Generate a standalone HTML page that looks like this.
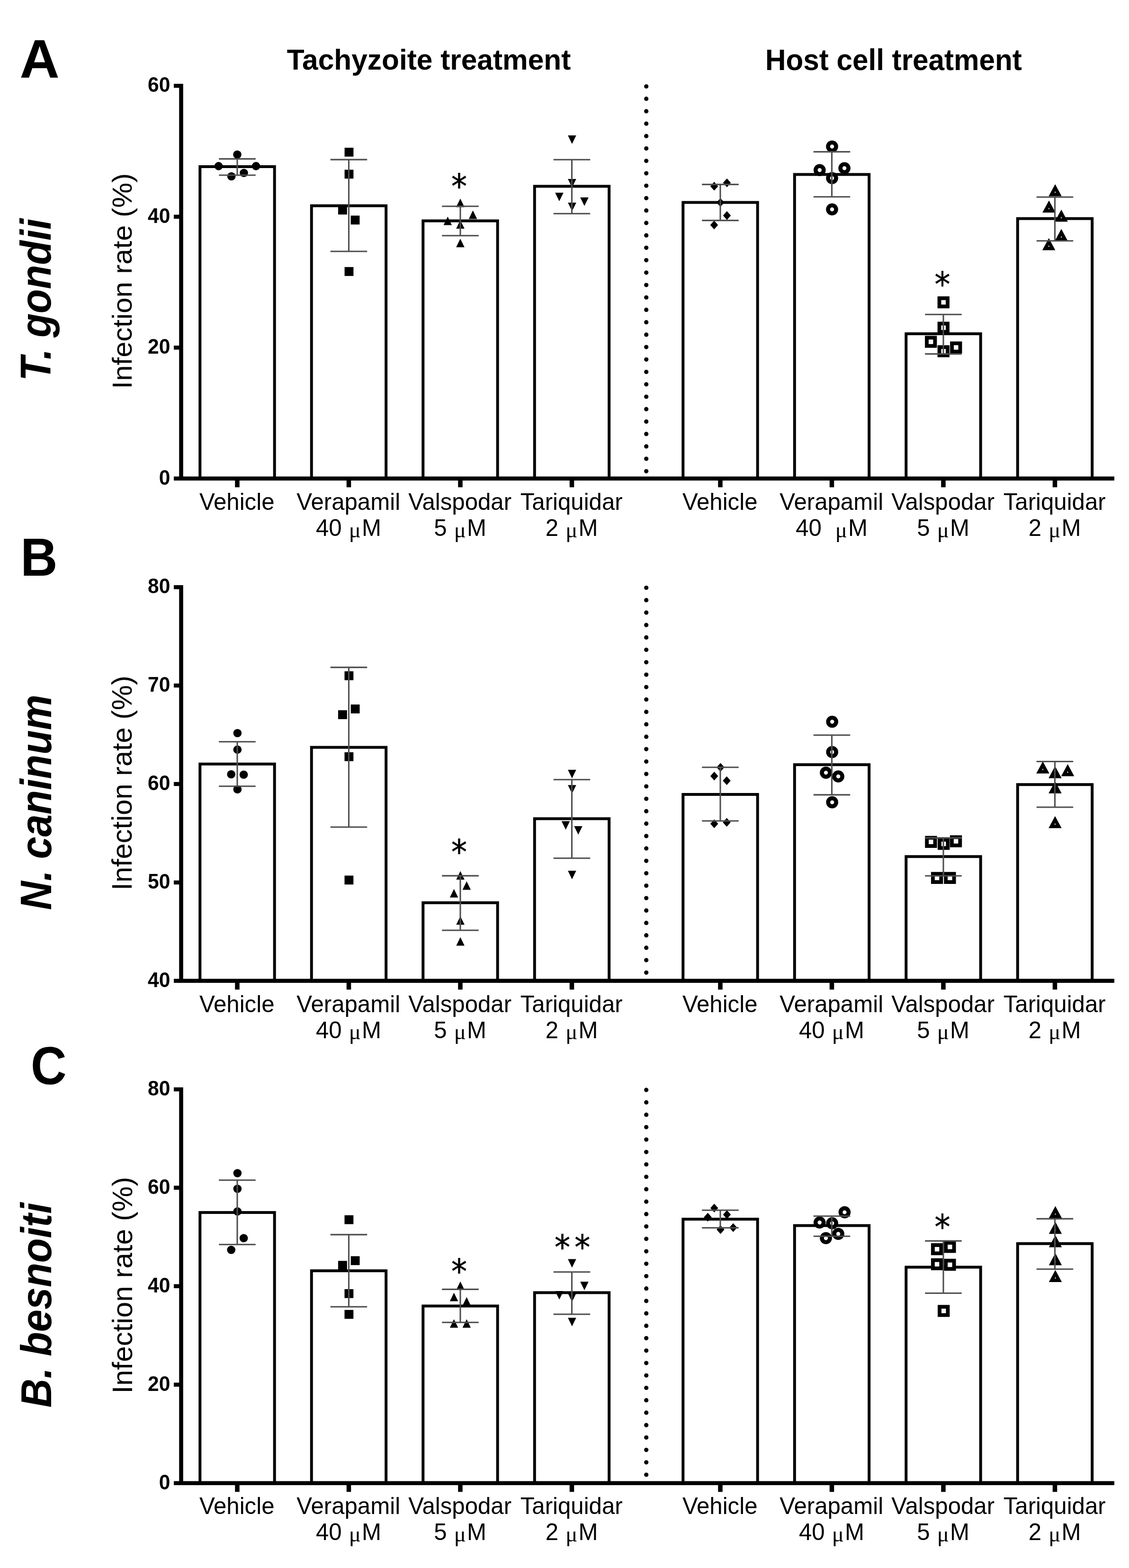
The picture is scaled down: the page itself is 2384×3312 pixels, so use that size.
<!DOCTYPE html>
<html><head><meta charset="utf-8"><title>Infection rate figure</title>
<style>html,body{margin:0;padding:0;background:#fff;}svg{display:block;filter:blur(0.5px);}</style>
</head><body>
<svg width="2384" height="3312" viewBox="0 0 2384 3312">
<rect width="2384" height="3312" fill="#fff"/>
<g><rect x="422.30" y="352.00" width="157.4" height="658.80" fill="#fff" stroke="#000" stroke-width="6"/><rect x="657.80" y="434.60" width="157.4" height="576.20" fill="#fff" stroke="#000" stroke-width="6"/><rect x="893.30" y="466.50" width="157.4" height="544.30" fill="#fff" stroke="#000" stroke-width="6"/><rect x="1128.80" y="393.50" width="157.4" height="617.30" fill="#fff" stroke="#000" stroke-width="6"/><rect x="1442.30" y="427.60" width="157.4" height="583.20" fill="#fff" stroke="#000" stroke-width="6"/><rect x="1677.80" y="368.50" width="157.4" height="642.30" fill="#fff" stroke="#000" stroke-width="6"/><rect x="1913.30" y="705.00" width="157.4" height="305.80" fill="#fff" stroke="#000" stroke-width="6"/><rect x="2148.80" y="461.70" width="157.4" height="549.10" fill="#fff" stroke="#000" stroke-width="6"/></g>
<g fill="#000"><circle cx="501.0" cy="326.5" r="8.8"/><circle cx="461.6" cy="350.9" r="8.8"/><circle cx="540.6" cy="350.9" r="8.8"/><circle cx="488.7" cy="372.5" r="8.8"/><circle cx="515.0" cy="365.2" r="8.8"/><rect x="727.6" y="312.0" width="18.8" height="18.8"/><rect x="727.6" y="358.5" width="18.8" height="18.8"/><rect x="714.0" y="434.3" width="18.8" height="18.8"/><rect x="740.6" y="455.4" width="18.8" height="18.8"/><rect x="727.6" y="564.1" width="18.8" height="18.8"/><path d="M972.0 419.5L980.8 437.5L963.2 437.5Z"/><path d="M998.6 444.6L1007.4 462.6L989.9 462.6Z"/><path d="M945.4 457.5L954.1 475.5L936.6 475.5Z"/><path d="M972.0 465.0L980.8 483.0L963.2 483.0Z"/><path d="M972.0 504.2L980.8 522.2L963.2 522.2Z"/><path d="M1207.9 304.0L1216.7 286.0L1199.2 286.0Z"/><path d="M1207.9 396.0L1216.7 378.0L1199.2 378.0Z"/><path d="M1181.0 425.0L1189.8 407.0L1172.2 407.0Z"/><path d="M1234.0 435.0L1242.8 417.0L1225.2 417.0Z"/><path d="M1208.0 446.0L1216.8 428.0L1199.2 428.0Z"/><path d="M1508.1 384.1L1516.3 393.4L1508.1 402.6L1499.8 393.4Z"/><path d="M1535.0 376.9L1543.2 386.1L1535.0 395.4L1526.8 386.1Z"/><path d="M1521.2 418.4L1529.5 427.7L1521.2 436.9L1513.0 427.7Z"/><path d="M1535.0 445.9L1543.2 455.2L1535.0 464.4L1526.8 455.2Z"/><path d="M1508.0 466.1L1516.2 475.3L1508.0 484.6L1499.8 475.3Z"/><circle cx="1757.0" cy="309.5" r="8.5" fill="#fff" stroke="#000" stroke-width="8.6"/><circle cx="1730.8" cy="359.3" r="8.5" fill="#fff" stroke="#000" stroke-width="8.6"/><circle cx="1783.1" cy="355.2" r="8.5" fill="#fff" stroke="#000" stroke-width="8.6"/><circle cx="1757.0" cy="376.2" r="8.5" fill="#fff" stroke="#000" stroke-width="8.6"/><circle cx="1757.0" cy="442.2" r="8.5" fill="#fff" stroke="#000" stroke-width="8.6"/><rect x="1983.6" y="629.9" width="17.4" height="17.4" fill="#fff" stroke="#000" stroke-width="7.9"/><rect x="1983.6" y="683.5" width="17.4" height="17.4" fill="#fff" stroke="#000" stroke-width="7.9"/><rect x="1957.0" y="713.3" width="17.4" height="17.4" fill="#fff" stroke="#000" stroke-width="7.9"/><rect x="2010.1" y="725.2" width="17.4" height="17.4" fill="#fff" stroke="#000" stroke-width="7.9"/><rect x="1983.6" y="733.2" width="17.4" height="17.4" fill="#fff" stroke="#000" stroke-width="7.9"/><path d="M2228.1 389.1L2241.8 414.6L2214.3 414.6Z"/><path fill="#fff" d="M2228.1 403.8L2229.4 407.3L2226.8 407.3Z"/><path d="M2215.0 423.6L2228.8 449.1L2201.2 449.1Z"/><path fill="#fff" d="M2215.0 438.3L2216.3 441.8L2213.7 441.8Z"/><path d="M2241.1 442.8L2254.8 468.2L2227.3 468.2Z"/><path fill="#fff" d="M2241.1 457.4L2242.4 460.9L2239.8 460.9Z"/><path d="M2241.1 483.6L2254.8 509.1L2227.3 509.1Z"/><path fill="#fff" d="M2241.1 498.3L2242.4 501.8L2239.8 501.8Z"/><path d="M2214.7 503.0L2228.4 528.5L2200.9 528.5Z"/><path fill="#fff" d="M2214.7 517.8L2216.0 521.2L2213.4 521.2Z"/></g>
<path fill="none" stroke="#4e4e4e" stroke-width="3.1" d="M501 335.6V370M462.25 335.6H539.75M462.25 370H539.75M736.5 337.1V531M697.75 337.1H775.25M697.75 531H775.25M972 435.8V497.7M933.25 435.8H1010.75M933.25 497.7H1010.75M1207.5 337.2V451.3M1168.75 337.2H1246.25M1168.75 451.3H1246.25M1521 389.6V465.6M1482.25 389.6H1559.75M1482.25 465.6H1559.75M1756.5 320.6V415.8M1717.75 320.6H1795.25M1717.75 415.8H1795.25M1992 664.2V747.6M1953.25 664.2H2030.75M1953.25 747.6H2030.75M2227.5 416.3V508.7M2188.75 416.3H2266.25M2188.75 508.7H2266.25"/>
<line x1="1364.7" y1="182.5" x2="1364.7" y2="1002.8" stroke="#000" stroke-width="9.2" stroke-linecap="round" stroke-dasharray="0 26.22"/>
<path fill="none" stroke="#000" stroke-width="8.5" d="M382.5 176.95V1010.80M367 1010.80H2353M367 1010.80H382.5M367 734.30H382.5M367 457.70H382.5M367 181.20H382.5"/>
<path fill="none" stroke="#000" stroke-width="9.5" d="M501 1010.80V1029.30M736.5 1010.80V1029.30M972 1010.80V1029.30M1207.5 1010.80V1029.30M1521 1010.80V1029.30M1756.5 1010.80V1029.30M1992 1010.80V1029.30M2227.5 1010.80V1029.30"/>
<text font-family='"Liberation Sans", Arial, sans-serif' font-weight="bold" font-size="45.25" transform="translate(335.71,1023.72) scale(0.94,1)">0</text>
<text font-family='"Liberation Sans", Arial, sans-serif' font-weight="bold" font-size="45.25" transform="translate(312.10,747.22) scale(0.94,1)">20</text>
<text font-family='"Liberation Sans", Arial, sans-serif' font-weight="bold" font-size="45.25" transform="translate(312.10,470.62) scale(0.94,1)">40</text>
<text font-family='"Liberation Sans", Arial, sans-serif' font-weight="bold" font-size="45.25" transform="translate(312.10,194.12) scale(0.94,1)">60</text>
<text font-family='"Liberation Sans", Arial, sans-serif' font-size="49.2" text-anchor="middle" x="500.2" y="1077.1">Vehicle</text>
<text font-family='"Liberation Sans", Arial, sans-serif' font-size="49.2" text-anchor="middle" x="735.7" y="1077.1">Verapamil</text>
<text font-family='"Liberation Sans", Arial, sans-serif' font-size="49.2" text-anchor="middle" x="736.0" y="1132.2">40 <tspan font-family='"Liberation Serif", serif' font-size="47" dx="1.5" dy="2.6">μ</tspan><tspan dx="2" dy="-2.6">M</tspan></text>
<text font-family='"Liberation Sans", Arial, sans-serif' font-size="49.2" text-anchor="middle" x="971.2" y="1077.1">Valspodar</text>
<text font-family='"Liberation Sans", Arial, sans-serif' font-size="49.2" text-anchor="middle" x="971.5" y="1132.2">5 <tspan font-family='"Liberation Serif", serif' font-size="47" dx="1.5" dy="2.6">μ</tspan><tspan dx="2" dy="-2.6">M</tspan></text>
<text font-family='"Liberation Sans", Arial, sans-serif' font-size="49.2" text-anchor="middle" x="1206.7" y="1077.1">Tariquidar</text>
<text font-family='"Liberation Sans", Arial, sans-serif' font-size="49.2" text-anchor="middle" x="1207.0" y="1132.2">2 <tspan font-family='"Liberation Serif", serif' font-size="47" dx="1.5" dy="2.6">μ</tspan><tspan dx="2" dy="-2.6">M</tspan></text>
<text font-family='"Liberation Sans", Arial, sans-serif' font-size="49.2" text-anchor="middle" x="1520.2" y="1077.1">Vehicle</text>
<text font-family='"Liberation Sans", Arial, sans-serif' font-size="49.2" text-anchor="middle" x="1755.7" y="1077.1">Verapamil</text>
<text font-family='"Liberation Sans", Arial, sans-serif' font-size="49.2" text-anchor="middle" x="1756.0" y="1132.2">40  <tspan font-family='"Liberation Serif", serif' font-size="47" dx="1.5" dy="2.6">μ</tspan><tspan dx="2" dy="-2.6">M</tspan></text>
<text font-family='"Liberation Sans", Arial, sans-serif' font-size="49.2" text-anchor="middle" x="1991.2" y="1077.1">Valspodar</text>
<text font-family='"Liberation Sans", Arial, sans-serif' font-size="49.2" text-anchor="middle" x="1991.5" y="1132.2">5 <tspan font-family='"Liberation Serif", serif' font-size="47" dx="1.5" dy="2.6">μ</tspan><tspan dx="2" dy="-2.6">M</tspan></text>
<text font-family='"Liberation Sans", Arial, sans-serif' font-size="49.2" text-anchor="middle" x="2226.7" y="1077.1">Tariquidar</text>
<text font-family='"Liberation Sans", Arial, sans-serif' font-size="49.2" text-anchor="middle" x="2227.0" y="1132.2">2 <tspan font-family='"Liberation Serif", serif' font-size="47" dx="1.5" dy="2.6">μ</tspan><tspan dx="2" dy="-2.6">M</tspan></text>
<text font-family='"DejaVu Sans", sans-serif' font-size="71" text-anchor="middle" transform="translate(969.5,418.3) scale(0.93,1)" stroke="#000" stroke-width="0.7">*</text>
<text font-family='"DejaVu Sans", sans-serif' font-size="71" text-anchor="middle" transform="translate(1990.1,624.9) scale(0.93,1)" stroke="#000" stroke-width="0.7">*</text>
<g><rect x="422.30" y="1613.80" width="157.4" height="458.00" fill="#fff" stroke="#000" stroke-width="6"/><rect x="657.80" y="1578.60" width="157.4" height="493.20" fill="#fff" stroke="#000" stroke-width="6"/><rect x="893.30" y="1906.80" width="157.4" height="165.00" fill="#fff" stroke="#000" stroke-width="6"/><rect x="1128.80" y="1729.30" width="157.4" height="342.50" fill="#fff" stroke="#000" stroke-width="6"/><rect x="1442.30" y="1678.00" width="157.4" height="393.80" fill="#fff" stroke="#000" stroke-width="6"/><rect x="1677.80" y="1615.20" width="157.4" height="456.60" fill="#fff" stroke="#000" stroke-width="6"/><rect x="1913.30" y="1809.30" width="157.4" height="262.50" fill="#fff" stroke="#000" stroke-width="6"/><rect x="2148.80" y="1657.20" width="157.4" height="414.60" fill="#fff" stroke="#000" stroke-width="6"/></g>
<g fill="#000"><circle cx="501.4" cy="1548.5" r="8.8"/><circle cx="501.4" cy="1583.4" r="8.8"/><circle cx="488.2" cy="1635.5" r="8.8"/><circle cx="514.6" cy="1636.3" r="8.8"/><circle cx="501.4" cy="1667.3" r="8.8"/><rect x="727.5" y="1417.9" width="18.8" height="18.8"/><rect x="714.0" y="1500.2" width="18.8" height="18.8"/><rect x="740.7" y="1488.1" width="18.8" height="18.8"/><rect x="727.5" y="1588.9" width="18.8" height="18.8"/><rect x="727.5" y="1849.5" width="18.8" height="18.8"/><path d="M972.1 1840.0L980.9 1858.0L963.4 1858.0Z"/><path d="M985.4 1861.4L994.1 1879.4L976.6 1879.4Z"/><path d="M958.6 1877.8L967.4 1895.8L949.9 1895.8Z"/><path d="M972.1 1935.2L980.9 1953.2L963.4 1953.2Z"/><path d="M972.1 1979.5L980.9 1997.5L963.4 1997.5Z"/><path d="M1207.9 1643.9L1216.7 1625.9L1199.2 1625.9Z"/><path d="M1207.9 1676.3L1216.7 1658.3L1199.2 1658.3Z"/><path d="M1194.6 1752.4L1203.3 1734.4L1185.8 1734.4Z"/><path d="M1221.1 1763.0L1229.8 1745.0L1212.3 1745.0Z"/><path d="M1207.9 1857.2L1216.7 1839.2L1199.2 1839.2Z"/><path d="M1521.4 1611.5L1529.7 1620.8L1521.4 1630.0L1513.2 1620.8Z"/><path d="M1508.2 1630.0L1516.5 1639.2L1508.2 1648.5L1500.0 1639.2Z"/><path d="M1534.6 1639.8L1542.8 1649.0L1534.6 1658.2L1526.3 1649.0Z"/><path d="M1508.2 1730.8L1516.5 1740.0L1508.2 1749.2L1500.0 1740.0Z"/><path d="M1534.6 1727.7L1542.8 1736.9L1534.6 1746.2L1526.3 1736.9Z"/><circle cx="1757.2" cy="1524.5" r="8.5" fill="#fff" stroke="#000" stroke-width="8.6"/><circle cx="1757.2" cy="1588.5" r="8.5" fill="#fff" stroke="#000" stroke-width="8.6"/><circle cx="1744.0" cy="1632.1" r="8.5" fill="#fff" stroke="#000" stroke-width="8.6"/><circle cx="1770.1" cy="1640.0" r="8.5" fill="#fff" stroke="#000" stroke-width="8.6"/><circle cx="1757.2" cy="1694.6" r="8.5" fill="#fff" stroke="#000" stroke-width="8.6"/><rect x="1957.2" y="1769.6" width="17.4" height="17.4" fill="#fff" stroke="#000" stroke-width="7.9"/><rect x="1984.0" y="1773.8" width="17.4" height="17.4" fill="#fff" stroke="#000" stroke-width="7.9"/><rect x="2009.9" y="1768.3" width="17.4" height="17.4" fill="#fff" stroke="#000" stroke-width="7.9"/><rect x="1969.9" y="1845.7" width="17.4" height="17.4" fill="#fff" stroke="#000" stroke-width="7.9"/><rect x="1997.2" y="1845.7" width="17.4" height="17.4" fill="#fff" stroke="#000" stroke-width="7.9"/><path d="M2202.0 1608.3L2215.8 1633.8L2188.2 1633.8Z"/><path fill="#fff" d="M2202.0 1623.0L2203.3 1626.5L2200.7 1626.5Z"/><path d="M2227.9 1618.2L2241.7 1643.8L2214.2 1643.8Z"/><path fill="#fff" d="M2227.9 1633.0L2229.2 1636.4L2226.6 1636.4Z"/><path d="M2254.6 1614.0L2268.3 1639.5L2240.8 1639.5Z"/><path fill="#fff" d="M2254.6 1628.8L2255.9 1632.2L2253.3 1632.2Z"/><path d="M2227.9 1650.3L2241.7 1675.8L2214.2 1675.8Z"/><path fill="#fff" d="M2227.9 1665.0L2229.2 1668.5L2226.6 1668.5Z"/><path d="M2227.9 1723.8L2241.7 1749.3L2214.2 1749.3Z"/><path fill="#fff" d="M2227.9 1738.5L2229.2 1742.0L2226.6 1742.0Z"/></g>
<path fill="none" stroke="#4e4e4e" stroke-width="3.1" d="M501 1566.8V1660.8M462.25 1566.8H539.75M462.25 1660.8H539.75M736.5 1409.6V1747M697.75 1409.6H775.25M697.75 1747H775.25M972 1849.9V1965M933.25 1849.9H1010.75M933.25 1965H1010.75M1207.5 1646.8V1812.7M1168.75 1646.8H1246.25M1168.75 1812.7H1246.25M1521 1620.8V1734M1482.25 1620.8H1559.75M1482.25 1734H1559.75M1756.5 1552.7V1678.9M1717.75 1552.7H1795.25M1717.75 1678.9H1795.25M1992 1769.9V1850M1953.25 1769.9H2030.75M1953.25 1850H2030.75M2227.5 1608.5V1705M2188.75 1608.5H2266.25M2188.75 1705H2266.25"/>
<line x1="1364.7" y1="1241.5" x2="1364.7" y2="2063.8" stroke="#000" stroke-width="9.2" stroke-linecap="round" stroke-dasharray="0 26.22"/>
<path fill="none" stroke="#000" stroke-width="8.5" d="M382.5 1235.95V2071.80M367 2071.80H2353M367 2071.80H382.5M367 1863.90H382.5M367 1656.00H382.5M367 1448.10H382.5M367 1240.20H382.5"/>
<path fill="none" stroke="#000" stroke-width="9.5" d="M501 2071.80V2090.30M736.5 2071.80V2090.30M972 2071.80V2090.30M1207.5 2071.80V2090.30M1521 2071.80V2090.30M1756.5 2071.80V2090.30M1992 2071.80V2090.30M2227.5 2071.80V2090.30"/>
<text font-family='"Liberation Sans", Arial, sans-serif' font-weight="bold" font-size="45.25" transform="translate(312.10,2084.72) scale(0.94,1)">40</text>
<text font-family='"Liberation Sans", Arial, sans-serif' font-weight="bold" font-size="45.25" transform="translate(312.10,1876.82) scale(0.94,1)">50</text>
<text font-family='"Liberation Sans", Arial, sans-serif' font-weight="bold" font-size="45.25" transform="translate(312.10,1668.92) scale(0.94,1)">60</text>
<text font-family='"Liberation Sans", Arial, sans-serif' font-weight="bold" font-size="45.25" transform="translate(312.10,1461.02) scale(0.94,1)">70</text>
<text font-family='"Liberation Sans", Arial, sans-serif' font-weight="bold" font-size="45.25" transform="translate(312.10,1253.12) scale(0.94,1)">80</text>
<text font-family='"Liberation Sans", Arial, sans-serif' font-size="49.2" text-anchor="middle" x="500.2" y="2137.6">Vehicle</text>
<text font-family='"Liberation Sans", Arial, sans-serif' font-size="49.2" text-anchor="middle" x="735.7" y="2137.6">Verapamil</text>
<text font-family='"Liberation Sans", Arial, sans-serif' font-size="49.2" text-anchor="middle" x="736.0" y="2192.7">40 <tspan font-family='"Liberation Serif", serif' font-size="47" dx="1.5" dy="2.6">μ</tspan><tspan dx="2" dy="-2.6">M</tspan></text>
<text font-family='"Liberation Sans", Arial, sans-serif' font-size="49.2" text-anchor="middle" x="971.2" y="2137.6">Valspodar</text>
<text font-family='"Liberation Sans", Arial, sans-serif' font-size="49.2" text-anchor="middle" x="971.5" y="2192.7">5 <tspan font-family='"Liberation Serif", serif' font-size="47" dx="1.5" dy="2.6">μ</tspan><tspan dx="2" dy="-2.6">M</tspan></text>
<text font-family='"Liberation Sans", Arial, sans-serif' font-size="49.2" text-anchor="middle" x="1206.7" y="2137.6">Tariquidar</text>
<text font-family='"Liberation Sans", Arial, sans-serif' font-size="49.2" text-anchor="middle" x="1207.0" y="2192.7">2 <tspan font-family='"Liberation Serif", serif' font-size="47" dx="1.5" dy="2.6">μ</tspan><tspan dx="2" dy="-2.6">M</tspan></text>
<text font-family='"Liberation Sans", Arial, sans-serif' font-size="49.2" text-anchor="middle" x="1520.2" y="2137.6">Vehicle</text>
<text font-family='"Liberation Sans", Arial, sans-serif' font-size="49.2" text-anchor="middle" x="1755.7" y="2137.6">Verapamil</text>
<text font-family='"Liberation Sans", Arial, sans-serif' font-size="49.2" text-anchor="middle" x="1756.0" y="2192.7">40 <tspan font-family='"Liberation Serif", serif' font-size="47" dx="1.5" dy="2.6">μ</tspan><tspan dx="2" dy="-2.6">M</tspan></text>
<text font-family='"Liberation Sans", Arial, sans-serif' font-size="49.2" text-anchor="middle" x="1991.2" y="2137.6">Valspodar</text>
<text font-family='"Liberation Sans", Arial, sans-serif' font-size="49.2" text-anchor="middle" x="1991.5" y="2192.7">5 <tspan font-family='"Liberation Serif", serif' font-size="47" dx="1.5" dy="2.6">μ</tspan><tspan dx="2" dy="-2.6">M</tspan></text>
<text font-family='"Liberation Sans", Arial, sans-serif' font-size="49.2" text-anchor="middle" x="2226.7" y="2137.6">Tariquidar</text>
<text font-family='"Liberation Sans", Arial, sans-serif' font-size="49.2" text-anchor="middle" x="2227.0" y="2192.7">2 <tspan font-family='"Liberation Serif", serif' font-size="47" dx="1.5" dy="2.6">μ</tspan><tspan dx="2" dy="-2.6">M</tspan></text>
<text font-family='"DejaVu Sans", sans-serif' font-size="71" text-anchor="middle" transform="translate(969.5,1824.4) scale(0.93,1)" stroke="#000" stroke-width="0.7">*</text>
<g><rect x="422.30" y="2561.10" width="157.4" height="571.60" fill="#fff" stroke="#000" stroke-width="6"/><rect x="657.80" y="2684.20" width="157.4" height="448.50" fill="#fff" stroke="#000" stroke-width="6"/><rect x="893.30" y="2758.60" width="157.4" height="374.10" fill="#fff" stroke="#000" stroke-width="6"/><rect x="1128.80" y="2730.40" width="157.4" height="402.30" fill="#fff" stroke="#000" stroke-width="6"/><rect x="1442.30" y="2575.20" width="157.4" height="557.50" fill="#fff" stroke="#000" stroke-width="6"/><rect x="1677.80" y="2588.70" width="157.4" height="544.00" fill="#fff" stroke="#000" stroke-width="6"/><rect x="1913.30" y="2676.60" width="157.4" height="456.10" fill="#fff" stroke="#000" stroke-width="6"/><rect x="2148.80" y="2626.80" width="157.4" height="505.90" fill="#fff" stroke="#000" stroke-width="6"/></g>
<g fill="#000"><circle cx="501.4" cy="2478.0" r="8.8"/><circle cx="501.4" cy="2511.0" r="8.8"/><circle cx="501.4" cy="2558.9" r="8.8"/><circle cx="514.6" cy="2615.2" r="8.8"/><circle cx="488.2" cy="2640.0" r="8.8"/><rect x="727.5" y="2566.9" width="18.8" height="18.8"/><rect x="740.7" y="2653.4" width="18.8" height="18.8"/><rect x="714.0" y="2663.3" width="18.8" height="18.8"/><rect x="727.5" y="2723.0" width="18.8" height="18.8"/><rect x="727.5" y="2766.9" width="18.8" height="18.8"/><path d="M972.1 2706.8L980.9 2724.8L963.4 2724.8Z"/><path d="M958.6 2730.4L967.4 2748.4L949.9 2748.4Z"/><path d="M985.4 2739.7L994.1 2757.7L976.6 2757.7Z"/><path d="M958.6 2786.5L967.4 2804.5L949.9 2804.5Z"/><path d="M985.4 2786.5L994.1 2804.5L976.6 2804.5Z"/><path d="M1207.9 2677.5L1216.7 2659.5L1199.2 2659.5Z"/><path d="M1234.0 2725.3L1242.8 2707.3L1225.2 2707.3Z"/><path d="M1181.1 2745.0L1189.8 2727.0L1172.3 2727.0Z"/><path d="M1207.9 2749.8L1216.7 2731.8L1199.2 2731.8Z"/><path d="M1207.9 2801.4L1216.7 2783.4L1199.2 2783.4Z"/><path d="M1508.2 2542.6L1516.5 2551.8L1508.2 2561.1L1500.0 2551.8Z"/><path d="M1494.6 2561.8L1502.8 2571.0L1494.6 2580.2L1486.3 2571.0Z"/><path d="M1535.0 2556.2L1543.2 2565.4L1535.0 2574.7L1526.8 2565.4Z"/><path d="M1521.4 2587.9L1529.7 2597.2L1521.4 2606.4L1513.2 2597.2Z"/><path d="M1548.2 2583.8L1556.5 2593.0L1548.2 2602.2L1540.0 2593.0Z"/><circle cx="1783.4" cy="2560.6" r="8.5" fill="#fff" stroke="#000" stroke-width="8.6"/><circle cx="1730.7" cy="2582.3" r="8.5" fill="#fff" stroke="#000" stroke-width="8.6"/><circle cx="1757.2" cy="2583.7" r="8.5" fill="#fff" stroke="#000" stroke-width="8.6"/><circle cx="1770.1" cy="2606.2" r="8.5" fill="#fff" stroke="#000" stroke-width="8.6"/><circle cx="1744.0" cy="2615.2" r="8.5" fill="#fff" stroke="#000" stroke-width="8.6"/><rect x="1969.9" y="2629.9" width="17.4" height="17.4" fill="#fff" stroke="#000" stroke-width="7.9"/><rect x="1997.2" y="2625.1" width="17.4" height="17.4" fill="#fff" stroke="#000" stroke-width="7.9"/><rect x="1969.9" y="2661.7" width="17.4" height="17.4" fill="#fff" stroke="#000" stroke-width="7.9"/><rect x="1997.2" y="2662.8" width="17.4" height="17.4" fill="#fff" stroke="#000" stroke-width="7.9"/><rect x="1984.0" y="2760.3" width="17.4" height="17.4" fill="#fff" stroke="#000" stroke-width="7.9"/><path d="M2228.5 2547.6L2242.2 2573.1L2214.8 2573.1Z"/><path fill="#fff" d="M2228.5 2562.2L2229.8 2565.7L2227.2 2565.7Z"/><path d="M2228.5 2580.8L2242.2 2606.2L2214.8 2606.2Z"/><path fill="#fff" d="M2228.5 2595.4L2229.8 2598.9L2227.2 2598.9Z"/><path d="M2228.5 2608.9L2242.2 2634.4L2214.8 2634.4Z"/><path fill="#fff" d="M2228.5 2623.6L2229.8 2627.1L2227.2 2627.1Z"/><path d="M2228.5 2646.9L2242.2 2672.4L2214.8 2672.4Z"/><path fill="#fff" d="M2228.5 2661.6L2229.8 2665.1L2227.2 2665.1Z"/><path d="M2228.5 2682.4L2242.2 2707.9L2214.8 2707.9Z"/><path fill="#fff" d="M2228.5 2697.1L2229.8 2700.6L2227.2 2700.6Z"/></g>
<path fill="none" stroke="#4e4e4e" stroke-width="3.1" d="M501 2492.7V2628.7M462.25 2492.7H539.75M462.25 2628.7H539.75M736.5 2607.9V2760.3M697.75 2607.9H775.25M697.75 2760.3H775.25M972 2723.4V2793.2M933.25 2723.4H1010.75M933.25 2793.2H1010.75M1207.5 2686.8V2776M1168.75 2686.8H1246.25M1168.75 2776H1246.25M1521 2556.3V2593.5M1482.25 2556.3H1559.75M1482.25 2593.5H1559.75M1756.5 2568.7V2611.3M1717.75 2568.7H1795.25M1717.75 2611.3H1795.25M1992 2621.1V2731.5M1953.25 2621.1H2030.75M1953.25 2731.5H2030.75M2227.5 2574.4V2680.8M2188.75 2574.4H2266.25M2188.75 2680.8H2266.25"/>
<line x1="1364.7" y1="2302.2" x2="1364.7" y2="3124.7" stroke="#000" stroke-width="9.2" stroke-linecap="round" stroke-dasharray="0 26.22"/>
<path fill="none" stroke="#000" stroke-width="8.5" d="M382.5 2296.65V3132.70M367 3132.70H2353M367 3132.70H382.5M367 2924.75H382.5M367 2716.80H382.5M367 2508.85H382.5M367 2300.90H382.5"/>
<path fill="none" stroke="#000" stroke-width="9.5" d="M501 3132.70V3151.20M736.5 3132.70V3151.20M972 3132.70V3151.20M1207.5 3132.70V3151.20M1521 3132.70V3151.20M1756.5 3132.70V3151.20M1992 3132.70V3151.20M2227.5 3132.70V3151.20"/>
<text font-family='"Liberation Sans", Arial, sans-serif' font-weight="bold" font-size="45.25" transform="translate(335.71,3145.62) scale(0.94,1)">0</text>
<text font-family='"Liberation Sans", Arial, sans-serif' font-weight="bold" font-size="45.25" transform="translate(312.10,2937.67) scale(0.94,1)">20</text>
<text font-family='"Liberation Sans", Arial, sans-serif' font-weight="bold" font-size="45.25" transform="translate(312.10,2729.72) scale(0.94,1)">40</text>
<text font-family='"Liberation Sans", Arial, sans-serif' font-weight="bold" font-size="45.25" transform="translate(312.10,2521.77) scale(0.94,1)">60</text>
<text font-family='"Liberation Sans", Arial, sans-serif' font-weight="bold" font-size="45.25" transform="translate(312.10,2313.82) scale(0.94,1)">80</text>
<text font-family='"Liberation Sans", Arial, sans-serif' font-size="49.2" text-anchor="middle" x="500.2" y="3198.2">Vehicle</text>
<text font-family='"Liberation Sans", Arial, sans-serif' font-size="49.2" text-anchor="middle" x="735.7" y="3198.2">Verapamil</text>
<text font-family='"Liberation Sans", Arial, sans-serif' font-size="49.2" text-anchor="middle" x="736.0" y="3253.3">40 <tspan font-family='"Liberation Serif", serif' font-size="47" dx="1.5" dy="2.6">μ</tspan><tspan dx="2" dy="-2.6">M</tspan></text>
<text font-family='"Liberation Sans", Arial, sans-serif' font-size="49.2" text-anchor="middle" x="971.2" y="3198.2">Valspodar</text>
<text font-family='"Liberation Sans", Arial, sans-serif' font-size="49.2" text-anchor="middle" x="971.5" y="3253.3">5 <tspan font-family='"Liberation Serif", serif' font-size="47" dx="1.5" dy="2.6">μ</tspan><tspan dx="2" dy="-2.6">M</tspan></text>
<text font-family='"Liberation Sans", Arial, sans-serif' font-size="49.2" text-anchor="middle" x="1206.7" y="3198.2">Tariquidar</text>
<text font-family='"Liberation Sans", Arial, sans-serif' font-size="49.2" text-anchor="middle" x="1207.0" y="3253.3">2 <tspan font-family='"Liberation Serif", serif' font-size="47" dx="1.5" dy="2.6">μ</tspan><tspan dx="2" dy="-2.6">M</tspan></text>
<text font-family='"Liberation Sans", Arial, sans-serif' font-size="49.2" text-anchor="middle" x="1520.2" y="3198.2">Vehicle</text>
<text font-family='"Liberation Sans", Arial, sans-serif' font-size="49.2" text-anchor="middle" x="1755.7" y="3198.2">Verapamil</text>
<text font-family='"Liberation Sans", Arial, sans-serif' font-size="49.2" text-anchor="middle" x="1756.0" y="3253.3">40 <tspan font-family='"Liberation Serif", serif' font-size="47" dx="1.5" dy="2.6">μ</tspan><tspan dx="2" dy="-2.6">M</tspan></text>
<text font-family='"Liberation Sans", Arial, sans-serif' font-size="49.2" text-anchor="middle" x="1991.2" y="3198.2">Valspodar</text>
<text font-family='"Liberation Sans", Arial, sans-serif' font-size="49.2" text-anchor="middle" x="1991.5" y="3253.3">5 <tspan font-family='"Liberation Serif", serif' font-size="47" dx="1.5" dy="2.6">μ</tspan><tspan dx="2" dy="-2.6">M</tspan></text>
<text font-family='"Liberation Sans", Arial, sans-serif' font-size="49.2" text-anchor="middle" x="2226.7" y="3198.2">Tariquidar</text>
<text font-family='"Liberation Sans", Arial, sans-serif' font-size="49.2" text-anchor="middle" x="2227.0" y="3253.3">2 <tspan font-family='"Liberation Serif", serif' font-size="47" dx="1.5" dy="2.6">μ</tspan><tspan dx="2" dy="-2.6">M</tspan></text>
<text font-family='"DejaVu Sans", sans-serif' font-size="71" text-anchor="middle" transform="translate(969.5,2709.9) scale(0.93,1)" stroke="#000" stroke-width="0.7">*</text>
<text font-family='"DejaVu Sans", sans-serif' font-size="71" text-anchor="middle" transform="translate(1187.5,2659.3) scale(0.93,1)" stroke="#000" stroke-width="0.7">*</text>
<text font-family='"DejaVu Sans", sans-serif' font-size="71" text-anchor="middle" transform="translate(1229.8,2659.3) scale(0.93,1)" stroke="#000" stroke-width="0.7">*</text>
<text font-family='"DejaVu Sans", sans-serif' font-size="71" text-anchor="middle" transform="translate(1990.1,2615.9) scale(0.93,1)" stroke="#000" stroke-width="0.7">*</text>
<text font-family='"Liberation Sans", Arial, sans-serif' font-size="58.12" transform="translate(277.90,821.38) rotate(-90) scale(1.0294,1)">Infection rate (%)</text>
<text font-family='"Liberation Sans", Arial, sans-serif' font-size="58.70" transform="translate(278.00,1880.66) rotate(-90) scale(1.0151,1)">Infection rate (%)</text>
<text font-family='"Liberation Sans", Arial, sans-serif' font-size="59.86" transform="translate(279.20,2943.61) rotate(-90) scale(1.0049,1)">Infection rate (%)</text>
<text font-family='"Liberation Sans", Arial, sans-serif' font-weight="bold" font-style="italic" font-size="90.58" transform="translate(107.30,804.67) rotate(-90) scale(0.9256,1)">T. gondii</text>
<text font-family='"Liberation Sans", Arial, sans-serif' font-weight="bold" font-style="italic" font-size="92.75" transform="translate(108.20,1922.19) rotate(-90) scale(0.9103,1)">N. caninum</text>
<text font-family='"Liberation Sans", Arial, sans-serif' font-weight="bold" font-style="italic" font-size="91.45" transform="translate(108.30,2973.19) rotate(-90) scale(0.9262,1)">B. besnoiti</text>
<text font-family='"Liberation Sans", Arial, sans-serif' font-weight="bold" font-size="115.22" transform="translate(41.59,163.60) scale(1.0115,1)">A</text>
<text font-family='"Liberation Sans", Arial, sans-serif' font-weight="bold" font-size="112.61" transform="translate(43.16,1216.30) scale(0.9614,1)">B</text>
<text font-family='"Liberation Sans", Arial, sans-serif' font-weight="bold" font-size="114.06" transform="translate(65.02,2290.30) scale(0.9172,1)">C</text>
<text font-family='"Liberation Sans", Arial, sans-serif' font-weight="bold" font-size="60.43" transform="translate(605.70,146.70) scale(0.9998,1)">Tachyzoite treatment</text>
<text font-family='"Liberation Sans", Arial, sans-serif' font-weight="bold" font-size="63.19" transform="translate(1615.99,148.30) scale(0.9529,1)">Host cell treatment</text>
</svg>
</body></html>
